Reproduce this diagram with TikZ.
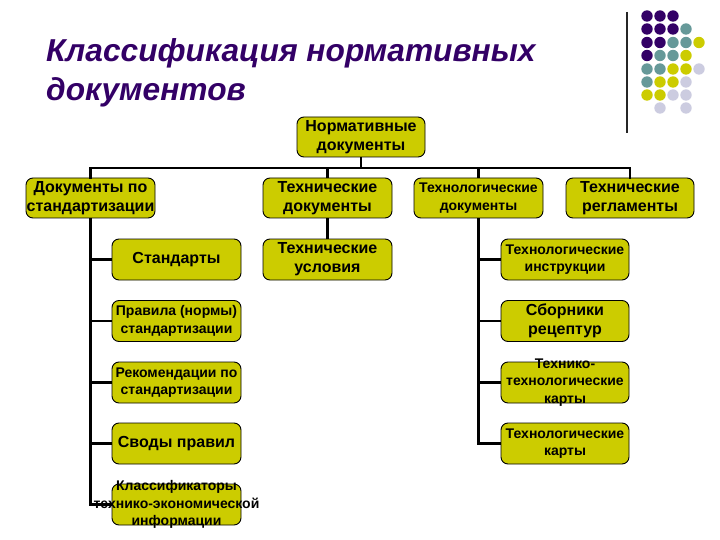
\documentclass[tikz,border=0pt]{standalone}
\usepackage{fontspec}
\setmainfont{Liberation Sans}
\definecolor{boxfill}{RGB}{204,204,0}
\definecolor{ttlpurple}{RGB}{51,0,102}
\definecolor{dpurple}{RGB}{51,0,102}
\definecolor{dteal}{RGB}{102,153,153}
\definecolor{dyellow}{RGB}{204,204,0}
\definecolor{dlav}{RGB}{204,204,224}
\tikzset{
  orgbox/.style={draw=black, line width=0.9pt, fill=boxfill, rounded corners=7pt,
    minimum width=129pt, minimum height=41pt, inner sep=0pt},
  big/.style={font=\fontsize{16}{19}\selectfont\bfseries, align=center, inner sep=0pt},
  small/.style={font=\fontsize{14}{17.5}\selectfont\bfseries, align=center, inner sep=0pt},
  conn/.style={draw=black, line width=2.2pt},
  dot/.style={circle, inner sep=0pt, minimum size=11.4pt},
  ttl/.style={anchor=base west, inner sep=0pt, text=ttlpurple,
      font=\fontsize{31.7}{38}\selectfont\bfseries\itshape}
}
\begin{document}
\begin{tikzpicture}[x=1pt,y=-1pt]
\useasboundingbox (0,0) rectangle (720,540);
% title
\node[ttl] (t1) at (46,62) {Классификация нормативных};
\node[ttl] (t2) at (46,101) {документов};
% decoration
\draw[line width=1.3pt, black!85] (627,12) -- (627,133);
\foreach \c/\col in {0/dpurple,1/dpurple,2/dpurple}{\node[dot,fill=\col] at (647+13*\c,16) {};}
\foreach \c/\col in {0/dpurple,1/dpurple,2/dpurple,3/dteal}{\node[dot,fill=\col] at (647+13*\c,29) {};}
\foreach \c/\col in {0/dpurple,1/dpurple,2/dteal,3/dteal,4/dyellow}{\node[dot,fill=\col] at (647+13*\c,42.5) {};}
\foreach \c/\col in {0/dpurple,1/dteal,2/dteal,3/dyellow}{\node[dot,fill=\col] at (647+13*\c,55.5) {};}
\foreach \c/\col in {0/dteal,1/dteal,2/dyellow,3/dyellow,4/dlav}{\node[dot,fill=\col] at (647+13*\c,69) {};}
\foreach \c/\col in {0/dteal,1/dyellow,2/dyellow,3/dlav}{\node[dot,fill=\col] at (647+13*\c,82) {};}
\foreach \c/\col in {0/dyellow,1/dyellow,2/dlav,3/dlav}{\node[dot,fill=\col] at (647+13*\c,95) {};}
\foreach \c/\col in {1/dlav,3/dlav}{\node[dot,fill=\col] at (647+13*\c,108) {};}
% boxes
\node[orgbox, minimum width=128pt, minimum height=40pt] (root) at (361,137) {};
\node[orgbox, minimum height=40pt] (A) at (90.5,198) {};
\node[orgbox, minimum height=40pt] (B) at (327.5,198) {};
\node[orgbox, minimum height=40pt] (C) at (478.5,198) {};
\node[orgbox, minimum width=128pt, minimum height=40pt] (D) at (630,198) {};
\node[orgbox] (L1) at (176.5,259.5) {};
\node[orgbox] (L2) at (176.5,321) {};
\node[orgbox] (L3) at (176.5,382.5) {};
\node[orgbox] (L4) at (176.5,443.5) {};
\node[orgbox] (L5) at (176.5,504.5) {};
\node[orgbox] (B1) at (327.5,259.5) {};
\node[orgbox, minimum width=128pt] (R1) at (565,259.5) {};
\node[orgbox, minimum width=128pt] (R2) at (565,321) {};
\node[orgbox, minimum width=128pt] (R3) at (565,382.5) {};
\node[orgbox, minimum width=128pt] (R4) at (565,443.5) {};
% connectors
\coordinate (busL) at (90.5,168);
\coordinate (busR) at (630,168);
\draw[conn] (root.south) -- (root.south |- busL);
\draw[conn, line cap=rect] (A.north) -- (busL) -- (busR) -- (D.north);
\draw[conn] (B.north) -- (B.north |- busL);
\draw[conn] (C.north) -- (C.north |- busL);
\draw[conn] (B.south) -- (B1.north);
\coordinate (lv) at (90.5,504.5);
\draw[conn] (A.south) -- (lv) -- (L5.west);
\draw[conn] (A.south |- L1.west) -- (L1.west);
\draw[conn] (A.south |- L2.west) -- (L2.west);
\draw[conn] (A.south |- L3.west) -- (L3.west);
\draw[conn] (A.south |- L4.west) -- (L4.west);
\coordinate (rv) at (478.5,443.5);
\draw[conn] (C.south) -- (rv) -- (R4.west);
\draw[conn] (C.south |- R1.west) -- (R1.west);
\draw[conn] (C.south |- R2.west) -- (R2.west);
\draw[conn] (C.south |- R3.west) -- (R3.west);
% texts
\node[big] (roott) at (root) {Нормативные\\документы};
\node[big] (At) at (A) {Документы по\\стандартизации};
\node[big] (Bt) at (B) {Технические\\документы};
\node[small] (Ct) at (C) {Технологические\\документы};
\node[big] (Dt) at (D) {Технические\\регламенты};
\node[big] (L1t) at (L1) {Стандарты};
\node[small] (L2t) at (L2) {Правила (нормы)\\стандартизации};
\node[small] (L3t) at (L3) {Рекомендации по\\стандартизации};
\node[big] (L4t) at (L4) {Своды правил};
\node[small] (L5t) at (L5) {Классификаторы\\технико-экономической\\информации};
\node[big] (B1t) at (B1) {Технические\\условия};
\node[small] (R1t) at (R1) {Технологические\\инструкции};
\node[big] (R2t) at (R2) {Сборники\\рецептур};
\node[small] (R3t) at (R3) {Технико-\\технологические\\карты};
\node[small] (R4t) at (R4) {Технологические\\карты};
\end{tikzpicture}
\end{document}
